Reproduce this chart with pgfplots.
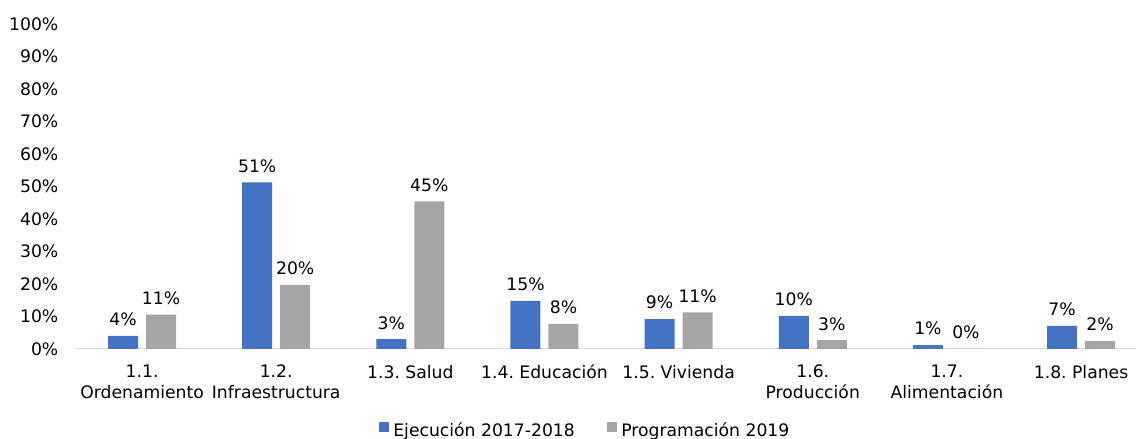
\documentclass[border=0pt]{standalone}
\usepackage{fontspec}
\setmainfont{DejaVu Sans}
\usepackage{pgfplots}
\pgfplotsset{compat=1.18}
\definecolor{cblue}{HTML}{4472C4}
\definecolor{cgray}{HTML}{A5A5A5}
\definecolor{axgray}{HTML}{D9D9D9}
\newcommand{\chf}{\fontsize{17.2}{21}\selectfont}
\frenchspacing
\begin{document}
\begin{tikzpicture}
\useasboundingbox (-75pt,-90pt) rectangle (1061pt,349pt);
\begin{axis}[
  scale only axis, width=1061pt, height=325pt,
  xmin=-0.5, xmax=7.41, ymin=0, ymax=100,
  ybar, bar width=30pt,
  axis x line*=bottom, axis y line*=left,
  x axis line style={draw=axgray, line width=1pt, -},
  y axis line style={draw=none},
  tick style={draw=none},
  major tick length=0pt,
  xtick={0,...,7},
  xticklabels={{1.1.\\Ordenamiento},{1.2.\\Infraestructura},{1.3. Salud},{1.4. Educación},{1.5. Vivienda},{1.6.\\Producción},{1.7.\\Alimentación},{1.8. Planes}},
  xticklabel style={font=\chf, align=center, anchor=north, inner sep=0pt, yshift=-16pt},
  ytick={0,10,...,100},
  yticklabels={0\%,10\%,20\%,30\%,40\%,50\%,60\%,70\%,80\%,90\%,100\%},
  yticklabel style={font=\chf, anchor=east, inner sep=0pt, xshift=-16.5pt},
  /pgf/number format/assume math mode=true,
  nodes near coords={\pgfmathprintnumber[fixed,precision=0]{\pgfplotspointmeta}\%},
  nodes near coords style={font=\chf, anchor=south, inner sep=0pt, text depth=0pt, yshift=10pt, black},
  legend columns=2,
  legend style={draw=none, font=\chf, at={(0.481,-0.251)}, anchor=center, inner sep=0pt,
    /tikz/every odd column/.append style={column sep=2pt},
    /tikz/every even column/.append style={column sep=30.5pt}},
  legend image code/.code={\fill[#1] (0pt,-1pt) rectangle (10pt,9pt);},
]
\addplot[fill=cblue, draw=none, bar shift=-19pt] coordinates {(0,4.0) (1,51.3) (2,3.0) (3,14.8) (4,9.2) (5,10.2) (6,1.2) (7,7.1)};
\addplot[fill=cgray, draw=none, bar shift=19pt] coordinates {(0,10.6) (1,19.7) (2,45.4) (3,7.7) (4,11.3) (5,2.7) (6,0.0) (7,2.4)};
\legend{Ejecución 2017-2018, Programación 2019}
\end{axis}
\end{tikzpicture}
\end{document}
